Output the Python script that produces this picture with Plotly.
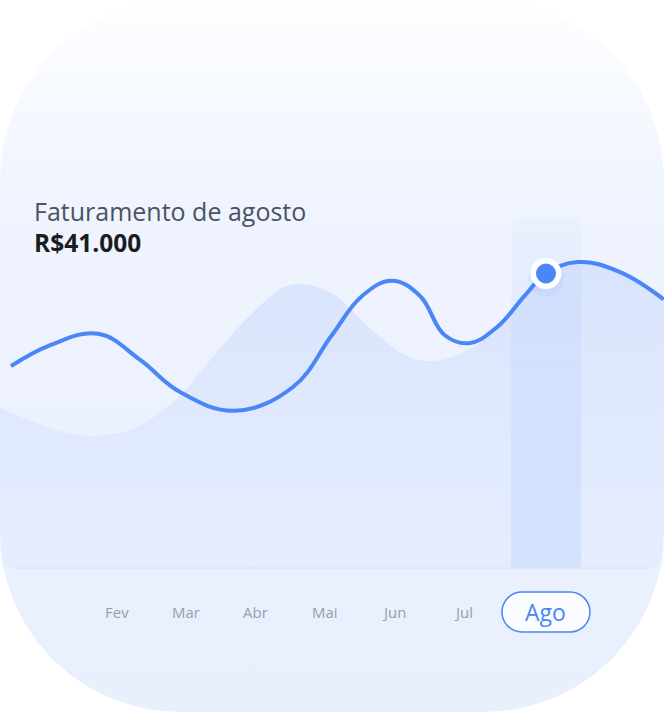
import numpy as np
import plotly.graph_objects as go

W, H = 664, 712

# ---------------- data ----------------
months = ["Fev", "Mar", "Abr", "Mai", "Jun", "Jul", "Ago"]
month_x = [1, 2, 3, 4, 5, 6, 7.19]
ago_value = 41.0  # R$ mil

line_x = [-0.53, 0.03, 0.73, 1.33, 1.91, 2.70, 3.54, 4.10, 4.54, 4.97, 5.37, 5.73,
          6.08, 6.48, 6.89, 7.19, 7.65, 8.26, 8.89]
line_y = [28.1, 31.0, 32.6, 29.0, 24.5, 21.9, 25.2, 32.4, 37.9, 40.0, 37.9, 32.4,
          31.3, 33.5, 38.0, 41.0, 42.6, 41.2, 37.4]

wave_x = [-0.69, 0.04, 0.61, 1.26, 1.84, 2.41, 2.92, 3.50, 4.07, 4.65, 5.16, 5.55,
          5.95, 6.37, 6.89, 7.19, 7.65, 8.26, 8.89]
wave_y = [22.3, 19.5, 18.4, 19.5, 23.4, 29.7, 35.2, 39.4, 38.4, 33.4, 29.6, 28.8,
          29.8, 32.4, 37.8, 40.8, 42.4, 41.0, 37.2]

title_text = "Faturamento de agosto"
value_text = "R$41.000"

# ---------------- geometry helpers ----------------
PX_PER_X = 69.3
X_LO = 1 - 117 / PX_PER_X
X_HI = X_LO + W / PX_PER_X
PX_PER_Y = 7.183
BASE_PX = 568
Y_LO = -(H - BASE_PX) / PX_PER_Y
Y_HI = BASE_PX / PX_PER_Y


def card_outline(w, h, r, n):
    xs, ys = [], []
    centers = [(w - r, h - r, 0.0), (r, h - r, np.pi / 2),
               (r, r, np.pi), (w - r, r, 1.5 * np.pi)]
    for cx, cy, a0 in centers:
        t = np.linspace(0, np.pi / 2, 48) + a0
        c, s = np.cos(t), np.sin(t)
        xs.extend(cx + r * np.sign(c) * np.abs(c) ** (2 / n))
        ys.extend(cy + r * np.sign(s) * np.abs(s) ** (2 / n))
    xs.append(xs[0]); ys.append(ys[0])
    return xs, ys


card_x, card_y = card_outline(W, H, 180, 2.0)

# highlight column (rounded top)
xc = month_x[-1]
half_w = 35 / PX_PER_X
top_v = (BASE_PX - 218) / PX_PER_Y
rx, ry = 10 / PX_PER_X, 10 / PX_PER_Y
t = np.linspace(np.pi, np.pi / 2, 12)
arc_l_x = (xc - half_w + rx) + rx * np.cos(t)
arc_l_y = (top_v - ry) + ry * np.sin(t)
t2 = np.linspace(np.pi / 2, 0, 12)
arc_r_x = (xc + half_w - rx) + rx * np.cos(t2)
arc_r_y = (top_v - ry) + ry * np.sin(t2)
bar_x = [xc - half_w] + list(arc_l_x) + list(arc_r_x) + [xc + half_w, xc - half_w]
bar_y = [0] + list(arc_l_y) + list(arc_r_y) + [0, 0]

BLUE = "#4a86f7"

fig = go.Figure()

# card background
fig.add_trace(go.Scatter(
    x=card_x, y=card_y, mode="lines", fill="toself", line=dict(width=0),
    fillgradient=dict(type="vertical", start=0, stop=H,
                      colorscale=[[0, "#e8effd"], [0.38, "#ecf1fe"],
                                  [0.72, "#eff4fe"], [1, "#fdfeff"]]),
    hoverinfo="skip", xaxis="x", yaxis="y"))

# highlight column
fig.add_trace(go.Scatter(
    x=bar_x, y=bar_y, mode="lines", fill="toself", line=dict(width=0),
    fillgradient=dict(type="vertical", start=0, stop=top_v,
                      colorscale=[[0, "rgba(74,134,247,0.12)"],
                                  [1, "rgba(74,134,247,0.035)"]]),
    hoverinfo="skip", xaxis="x2", yaxis="y2"))

# background wave
fig.add_trace(go.Scatter(
    x=wave_x, y=wave_y, mode="lines", fill="tozeroy",
    line=dict(width=0, shape="spline", smoothing=1.0),
    fillgradient=dict(type="vertical", start=0, stop=max(wave_y),
                      colorscale=[[0, "rgba(74,134,247,0.025)"],
                                  [1, "rgba(74,134,247,0.135)"]]),
    hoverinfo="skip", xaxis="x2", yaxis="y2"))

# main line
fig.add_trace(go.Scatter(
    x=line_x, y=line_y, mode="lines",
    line=dict(color=BLUE, width=4, shape="spline", smoothing=1.15),
    hoverinfo="skip", xaxis="x2", yaxis="y2"))

# marker shadow + marker
fig.add_trace(go.Scatter(
    x=[month_x[-1]], y=[ago_value - 0.7], mode="markers",
    marker=dict(size=36, color="rgba(74,134,247,0.07)", line=dict(width=0)),
    hoverinfo="skip", xaxis="x2", yaxis="y2"))
fig.add_trace(go.Scatter(
    x=[month_x[-1]], y=[ago_value], mode="markers",
    marker=dict(size=25.5, color=BLUE, line=dict(color="white", width=5.5)),
    hoverinfo="skip", xaxis="x2", yaxis="y2"))

label_y = 1 - 612 / H
annotations = []
for i, (mx, m) in enumerate(zip(month_x, months)):
    last = i == len(months) - 1
    annotations.append(dict(
        x=mx, xref="x2", y=label_y, yref="paper", text=m, showarrow=False,
        xanchor="center", yanchor="middle",
        font=dict(family="Open Sans", size=23 if last else 15,
                  color=BLUE if last else "#9a9db0")))

annotations.append(dict(
    x=32 / W, xref="paper", y=1 - 211 / H, yref="paper", text=title_text,
    showarrow=False, xanchor="left", yanchor="middle",
    font=dict(family="Open Sans", size=25, color="#4b5263")))
annotations.append(dict(
    x=32 / W, xref="paper", y=1 - 243 / H, yref="paper", text=f"<b>{value_text}</b>",
    showarrow=False, xanchor="left", yanchor="middle",
    font=dict(family="Open Sans", size=24.5, color="#1b1c20")))

k = 11.05
pill = (f"M -24,-20 L 24,-20 C {24+k},-20 44,{-k} 44,0 C 44,{k} {24+k},20 24,20 "
        f"L -24,20 C {-24-k},20 -44,{k} -44,0 C -44,{-k} {-24-k},-20 -24,-20 Z")

shapes = [
    dict(type="line", xref="paper", yref="y2", x0=12 / W, x1=652 / W, y0=0, y1=0,
         line=dict(color="#dce4f7", width=1.5)),
    dict(type="path", xref="x2", yref="paper", xsizemode="pixel", ysizemode="pixel",
         xanchor=month_x[-1], yanchor=label_y, path=pill,
         fillcolor="#fbfcff", line=dict(color=BLUE, width=1.5)),
]

fig.update_layout(
    width=W, height=H, margin=dict(l=0, r=0, t=0, b=0),
    paper_bgcolor="white", plot_bgcolor="rgba(0,0,0,0)", showlegend=False,
    xaxis=dict(range=[0, W], visible=False, fixedrange=True),
    yaxis=dict(range=[0, H], visible=False, fixedrange=True),
    xaxis2=dict(range=[X_LO, X_HI], overlaying="x", anchor="y2", visible=False),
    yaxis2=dict(range=[Y_LO, Y_HI], overlaying="y", anchor="x2", visible=False),
    annotations=annotations, shapes=shapes,
)

fig.write_html("out.html", config={"displayModeBar": False},
               post_script="document.body.style.margin='0';document.body.style.overflow='hidden';")
